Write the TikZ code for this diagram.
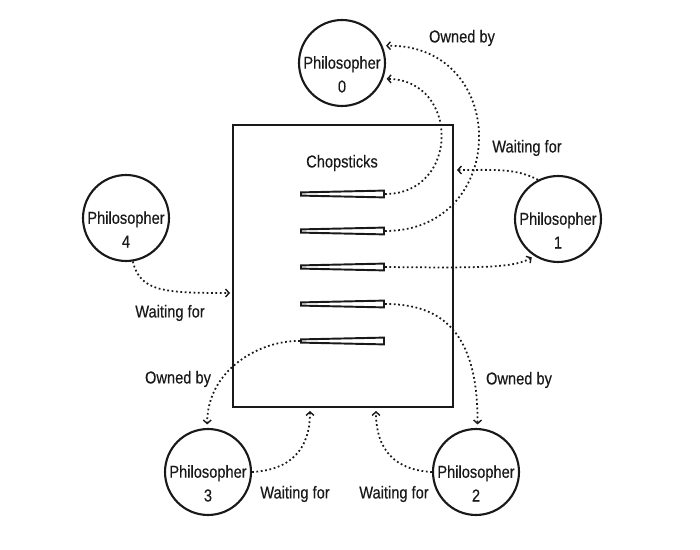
\documentclass[tikz,border=0pt]{standalone}
\usepackage{fontspec}
\setmainfont{Liberation Sans}[FakeStretch=0.85,FakeBold=0.4]
\usetikzlibrary{arrows.meta}
\definecolor{ink}{RGB}{25,25,25}
\begin{document}
\begin{tikzpicture}[x=0.02cm,y=-0.02cm,
  phil/.style={draw=ink,circle,line width=1.2pt,minimum size=1.72cm,inner sep=0pt},
  ptext/.style={align=center,font=\fontsize{9.8}{13.5}\selectfont,text=ink,inner sep=0pt},
  lbl/.style={font=\fontsize{9.8}{11}\selectfont,text=ink,inner sep=0pt},
  link/.style={draw=ink,line width=1pt,dash pattern=on 1pt off 1.5pt,
    -{Straight Barb[length=2pt,width=4.5pt,line width=0.8pt]}},
  stick/.style={draw=ink,fill=white,line width=1.1pt,line join=miter},
  boxst/.style={draw=ink,line width=1.2pt,minimum width=4.4cm,minimum height=5.64cm,inner sep=0pt}]
\useasboundingbox (0,0) rectangle (700,550);

% chopstick box
\node[boxst] (box) at (343,266) {};
\node[lbl] (chop) at (342,163) {Chopsticks};

% philosophers
\node[phil] (p0) at (342,63) {};
\node[phil] (p1) at (558,219) {};
\node[phil] (p2) at (476,472) {};
\node[phil] (p3) at (208,472) {};
\node[phil] (p4) at (126,218) {};
\foreach \n in {0,...,4}{
  \node[ptext] (t\n) at ([yshift=-6.5pt]p\n.center) {Philosopher\\\n};
}

% chopsticks
\foreach \i/\y in {1/194,2/231,3/267,4/304,5/341}{
  \draw[stick] (301,\y-1.6) -- (384,\y-3.4) -- (384,\y+3.4) -- (301,\y+1.6) -- cycle;
  \coordinate (c\i l) at (300,\y);
  \coordinate (c\i r) at (385,\y);
}

% targets on the box
\coordinate (w1) at (457,170);
\coordinate (w4) at (230,293);
\coordinate (w3) at (310,411);
\coordinate (w2) at (376,411);

% connectors
\draw[link,shorten >=2pt] (c1r) .. controls (460,194) and (460,80) .. (p0.-21);
\draw[link,shorten >=2pt] (c2r) .. controls (510,231) and (510,44) .. (p0.23);
\draw[link] (p1.117) .. controls (515,168) and (495,170) .. (w1);
\draw[link,shorten >=1.5pt] (c3r) .. controls (480,268) and (515,268) .. (p1.237);
\draw[link] (p4.279) .. controls (140,292) and (165,293) .. (w4);
\draw[link,shorten >=2pt] (c4r) .. controls (440,304) and (478,330) .. (p2.88);
\draw[link,shorten >=2pt] (c5l) .. controls (260,340) and (207,370) .. (p3.91);
\draw[link] (p3.0) .. controls (290,470) and (310,450) .. (w3);
\draw[link] (p2.180) .. controls (395,470) and (376,450) .. (w2);

% labels
\node[lbl] (o0) at (462,38) {Owned by};
\node[lbl] (wf1) at (527,148) {Waiting for};
\node[lbl] (wf4) at (170,313) {Waiting for};
\node[lbl] (o3) at (178,379) {Owned by};
\node[lbl] (o2) at (519,380) {Owned by};
\node[lbl] (wf3) at (295,494) {Waiting for};
\node[lbl] (wf2) at (394,494) {Waiting for};
\end{tikzpicture}
\end{document}
